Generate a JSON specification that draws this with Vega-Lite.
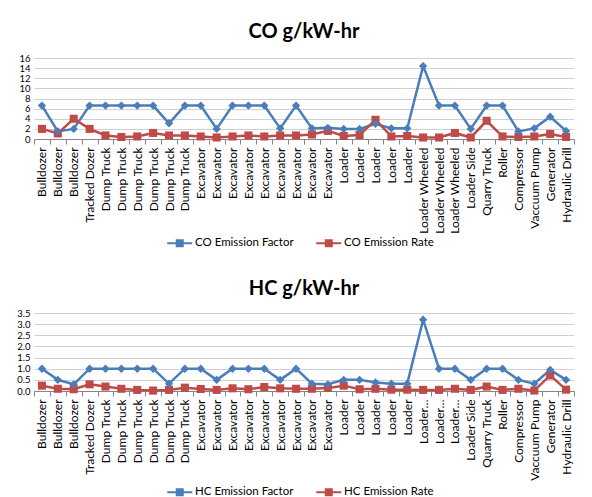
{
  "$schema": "https://vega.github.io/schema/vega-lite/v6.json",
  "background": "white",
  "padding": {"top": 22, "left": 16, "right": 5, "bottom": 2},
  "spacing": 30,
  "config": {
    "font": "Lato",
    "view": {"stroke": null},
    "axisY": {"domain": false, "ticks": false, "grid": true, "gridColor": "#d0d0d0", "labelFontSize": 9.5, "labelColor": "#000", "labelPadding": 4, "labelOverlap": false, "title": null},
    "axisX": {"domainColor": "#868686", "ticks": true, "tickColor": "#868686", "tickSize": 5, "tickBand": "extent", "labelAngle": -90, "labelFontSize": 12, "labelColor": "#000", "labelPadding": 3, "labelOverlap": false, "grid": false, "title": null},
    "legend": {"labelFontSize": 11.5, "labelColor": "#000", "symbolSize": 100, "symbolStrokeWidth": 0, "symbolOpacity": 1, "columnPadding": 22, "labelOffset": 9.5, "padding": 0}
  },
  "datasets": {
    "equip": [
      {"item": "01 Bulldozer", "CO Emission Factor": 6.6, "CO Emission Rate": 2.0, "HC Emission Factor": 1.0, "HC Emission Rate": 0.24},
      {"item": "02 Bulldozer", "CO Emission Factor": 1.5, "CO Emission Rate": 1.1, "HC Emission Factor": 0.5, "HC Emission Rate": 0.1},
      {"item": "03 Bulldozer", "CO Emission Factor": 2.0, "CO Emission Rate": 4.0, "HC Emission Factor": 0.3, "HC Emission Rate": 0.08},
      {"item": "04 Tracked Dozer", "CO Emission Factor": 6.6, "CO Emission Rate": 2.0, "HC Emission Factor": 1.0, "HC Emission Rate": 0.3},
      {"item": "05 Dump Truck", "CO Emission Factor": 6.6, "CO Emission Rate": 0.7, "HC Emission Factor": 1.0, "HC Emission Rate": 0.2},
      {"item": "06 Dump Truck", "CO Emission Factor": 6.6, "CO Emission Rate": 0.4, "HC Emission Factor": 1.0, "HC Emission Rate": 0.1},
      {"item": "07 Dump Truck", "CO Emission Factor": 6.6, "CO Emission Rate": 0.5, "HC Emission Factor": 1.0, "HC Emission Rate": 0.05},
      {"item": "08 Dump Truck", "CO Emission Factor": 6.6, "CO Emission Rate": 1.2, "HC Emission Factor": 1.0, "HC Emission Rate": 0.02},
      {"item": "09 Dump Truck", "CO Emission Factor": 3.1, "CO Emission Rate": 0.7, "HC Emission Factor": 0.33, "HC Emission Rate": 0.05},
      {"item": "10 Dump Truck", "CO Emission Factor": 6.6, "CO Emission Rate": 0.7, "HC Emission Factor": 1.0, "HC Emission Rate": 0.15},
      {"item": "11 Excavator", "CO Emission Factor": 6.6, "CO Emission Rate": 0.5, "HC Emission Factor": 1.0, "HC Emission Rate": 0.09},
      {"item": "12 Excavator", "CO Emission Factor": 2.0, "CO Emission Rate": 0.3, "HC Emission Factor": 0.5, "HC Emission Rate": 0.05},
      {"item": "13 Excavator", "CO Emission Factor": 6.6, "CO Emission Rate": 0.5, "HC Emission Factor": 1.0, "HC Emission Rate": 0.12},
      {"item": "14 Excavator", "CO Emission Factor": 6.6, "CO Emission Rate": 0.7, "HC Emission Factor": 1.0, "HC Emission Rate": 0.08},
      {"item": "15 Excavator", "CO Emission Factor": 6.6, "CO Emission Rate": 0.5, "HC Emission Factor": 1.0, "HC Emission Rate": 0.18},
      {"item": "16 Excavator", "CO Emission Factor": 2.1, "CO Emission Rate": 0.7, "HC Emission Factor": 0.5, "HC Emission Rate": 0.12},
      {"item": "17 Excavator", "CO Emission Factor": 6.6, "CO Emission Rate": 0.7, "HC Emission Factor": 1.0, "HC Emission Rate": 0.1},
      {"item": "18 Excavator", "CO Emission Factor": 2.1, "CO Emission Rate": 0.9, "HC Emission Factor": 0.33, "HC Emission Rate": 0.1},
      {"item": "19 Excavator", "CO Emission Factor": 2.2, "CO Emission Rate": 1.6, "HC Emission Factor": 0.3, "HC Emission Rate": 0.14},
      {"item": "20 Loader", "CO Emission Factor": 2.0, "CO Emission Rate": 0.6, "HC Emission Factor": 0.5, "HC Emission Rate": 0.24},
      {"item": "21 Loader", "CO Emission Factor": 2.0, "CO Emission Rate": 0.8, "HC Emission Factor": 0.5, "HC Emission Rate": 0.08},
      {"item": "22 Loader", "CO Emission Factor": 3.0, "CO Emission Rate": 3.8, "HC Emission Factor": 0.38, "HC Emission Rate": 0.1},
      {"item": "23 Loader", "CO Emission Factor": 2.1, "CO Emission Rate": 0.5, "HC Emission Factor": 0.33, "HC Emission Rate": 0.06},
      {"item": "24 Loader", "CO Emission Factor": 2.1, "CO Emission Rate": 0.6, "HC Emission Factor": 0.33, "HC Emission Rate": 0.06},
      {"item": "25 Loader Wheeled", "CO Emission Factor": 14.4, "CO Emission Rate": 0.3, "HC Emission Factor": 3.2, "HC Emission Rate": 0.05},
      {"item": "26 Loader Wheeled", "CO Emission Factor": 6.6, "CO Emission Rate": 0.3, "HC Emission Factor": 1.0, "HC Emission Rate": 0.05},
      {"item": "27 Loader Wheeled", "CO Emission Factor": 6.6, "CO Emission Rate": 1.2, "HC Emission Factor": 1.0, "HC Emission Rate": 0.1},
      {"item": "28 Loader Side", "CO Emission Factor": 2.0, "CO Emission Rate": 0.3, "HC Emission Factor": 0.5, "HC Emission Rate": 0.05},
      {"item": "29 Quarry Truck", "CO Emission Factor": 6.6, "CO Emission Rate": 3.6, "HC Emission Factor": 1.0, "HC Emission Rate": 0.2},
      {"item": "30 Roller", "CO Emission Factor": 6.6, "CO Emission Rate": 0.5, "HC Emission Factor": 1.0, "HC Emission Rate": 0.05},
      {"item": "31 Compressor", "CO Emission Factor": 1.5, "CO Emission Rate": 0.4, "HC Emission Factor": 0.5, "HC Emission Rate": 0.1},
      {"item": "32 Vaccuum Pump", "CO Emission Factor": 2.1, "CO Emission Rate": 0.5, "HC Emission Factor": 0.33, "HC Emission Rate": 0.02},
      {"item": "33 Generator", "CO Emission Factor": 4.4, "CO Emission Rate": 1.0, "HC Emission Factor": 0.95, "HC Emission Rate": 0.7},
      {"item": "34 Hydraulic Drill", "CO Emission Factor": 1.6, "CO Emission Rate": 0.4, "HC Emission Factor": 0.5, "HC Emission Rate": 0.06}
    ]
  },
  "resolve": {"scale": {"x": "independent", "y": "independent", "color": "independent"}},
  "vconcat": [
    {
      "title": {"text": "CO g/kW-hr", "fontSize": 20, "fontWeight": "bold", "font": "Lato", "anchor": "middle", "offset": 11, "color": "#000"},
      "width": 540,
      "height": 81,
      "data": {"name": "equip"},
      "transform": [{"fold": ["CO Emission Factor", "CO Emission Rate"], "as": ["series", "value"]}],
      "resolve": {"scale": {"color": "independent"}, "legend": {"color": "independent"}},
      "encoding": {
        "x": {"field": "item", "type": "ordinal", "bandPosition": 0.5, "scale": {"type": "band", "paddingInner": 0, "paddingOuter": 0}, "axis": {"labelExpr": "datum.value ? substring(datum.value, 3) : ''"}},
        "y": {"field": "value", "type": "quantitative", "scale": {"domain": [0, 16], "nice": false}, "axis": {"values": [0, 2, 4, 6, 8, 10, 12, 14, 16]}}
      },
      "layer": [
        {"mark": {"type": "line", "strokeWidth": 2.5},
          "encoding": {"color": {"field": "series", "type": "nominal", "scale": {"domain": ["CO Emission Factor", "CO Emission Rate"], "range": ["#4A7EBB", "#BE4B48"]}, "legend": null}}},
        {"transform": [{"filter": "datum.series === 'CO Emission Rate'"}],
          "mark": {"type": "point", "filled": true, "opacity": 1, "size": 65, "shape": "square"},
          "encoding": {"color": {"field": "series", "type": "nominal", "scale": {"domain": ["CO Emission Factor", "CO Emission Rate"], "range": ["#4A7EBB", "#BE4B48"]}, "legend": null}}},
        {"transform": [{"filter": "datum.series === 'CO Emission Factor'"}],
          "mark": {"type": "point", "filled": true, "opacity": 1, "size": 70, "shape": "diamond"},
          "encoding": {"color": {"field": "series", "type": "nominal", "scale": {"domain": ["CO Emission Factor", "CO Emission Rate"], "range": ["#4A7EBB", "#BE4B48"]},
            "legend": {"orient": "none", "legendX": 140, "legendY": 179, "direction": "horizontal", "title": null,
              "symbolType": "M-2.5,-0.2H2.5V0.2H-2.5Z M-0.8,-0.8H0.8V0.8H-0.8Z"}}}}
      ]
    },
    {
      "title": {"text": "HC g/kW-hr", "fontSize": 20, "fontWeight": "bold", "font": "Lato", "anchor": "middle", "offset": 9, "color": "#000"},
      "width": 540,
      "height": 78,
      "data": {"name": "equip"},
      "transform": [{"fold": ["HC Emission Factor", "HC Emission Rate"], "as": ["series", "value"]}],
      "resolve": {"scale": {"color": "independent"}, "legend": {"color": "independent"}},
      "encoding": {
        "x": {"field": "item", "type": "ordinal", "bandPosition": 0.5, "scale": {"type": "band", "paddingInner": 0, "paddingOuter": 0}, "axis": {"labelExpr": "datum.value ? replace(substring(datum.value, 3), 'Loader Wheeled', 'Loader…') : ''"}},
        "y": {"field": "value", "type": "quantitative", "scale": {"domain": [0, 3.5], "nice": false}, "axis": {"values": [0, 0.5, 1, 1.5, 2, 2.5, 3, 3.5], "format": ".1f"}}
      },
      "layer": [
        {"mark": {"type": "line", "strokeWidth": 2.5},
          "encoding": {"color": {"field": "series", "type": "nominal", "scale": {"domain": ["HC Emission Factor", "HC Emission Rate"], "range": ["#4A7EBB", "#BE4B48"]}, "legend": null}}},
        {"transform": [{"filter": "datum.series === 'HC Emission Rate'"}],
          "mark": {"type": "point", "filled": true, "opacity": 1, "size": 65, "shape": "square"},
          "encoding": {"color": {"field": "series", "type": "nominal", "scale": {"domain": ["HC Emission Factor", "HC Emission Rate"], "range": ["#4A7EBB", "#BE4B48"]}, "legend": null}}},
        {"transform": [{"filter": "datum.series === 'HC Emission Factor'"}],
          "mark": {"type": "point", "filled": true, "opacity": 1, "size": 70, "shape": "diamond"},
          "encoding": {"color": {"field": "series", "type": "nominal", "scale": {"domain": ["HC Emission Factor", "HC Emission Rate"], "range": ["#4A7EBB", "#BE4B48"]},
            "legend": {"orient": "none", "legendX": 140, "legendY": 173, "direction": "horizontal", "title": null,
              "symbolType": "M-2.5,-0.2H2.5V0.2H-2.5Z M-0.8,-0.8H0.8V0.8H-0.8Z"}}}}
      ]
    }
  ]
}
